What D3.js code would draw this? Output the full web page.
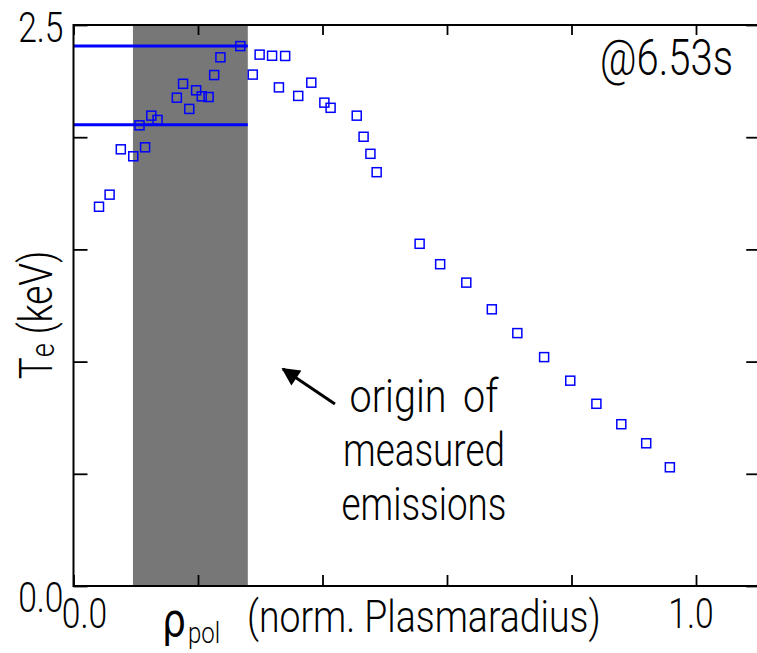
<!DOCTYPE html>
<html>
<head>
<meta charset="utf-8">
<script src="https://cdn.jsdelivr.net/npm/d3@7"></script>
<style>
  body { margin: 0; background: #fff; }
  text { font-family: Roboto, "Liberation Sans", sans-serif; font-weight: 300; fill: #000; }
</style>
</head>
<body>
<svg id="chart" width="757" height="653"></svg>
<script>
// measured profile
var rho = [0.041, 0.058, 0.076, 0.096, 0.115, 0.106, 0.125, 0.135, 0.166, 0.176,
  0.186, 0.197, 0.206, 0.217, 0.226, 0.236, 0.268, 0.288, 0.299, 0.319,
  0.340, 0.330, 0.361, 0.382, 0.403, 0.413, 0.455, 0.466, 0.477, 0.487,
  0.556, 0.589, 0.631, 0.672, 0.713, 0.756, 0.798, 0.840, 0.880, 0.920, 0.958];
var te = [1.690, 1.744, 1.946, 1.915, 1.955, 2.053, 2.096, 2.077, 2.176, 2.238,
  2.126, 2.209, 2.182, 2.179, 2.277, 2.356, 2.406, 2.279, 2.368, 2.363,
  2.362, 2.222, 2.184, 2.243, 2.154, 2.131, 2.096, 2.002, 1.926, 1.844,
  1.525, 1.434, 1.352, 1.233, 1.127, 1.020, 0.915, 0.812, 0.721, 0.636, 0.529];

var emissionBand = [0.0955, 0.28];   // shaded rho range
var refLevels = [2.406, 2.056];      // horizontal blue lines
var xTicks = [0, 0.2, 0.4, 0.6, 0.8, 1.0];
var yTicks = [0, 0.5, 1.0, 1.5, 2.0, 2.5];
var xLabels = [0.0, 1.0];
var yLabels = [0.0, 2.5];
var timeLabel = "@6.53s";
var noteLines = ["origin of", "measured", "emissions"];

var padL = 73.5, padT = 25, padB = 586;
var squeeze = 0.8;   // condensed look for all text

var x = d3.scaleLinear().domain([0, 1.1]).range([padL, padL + 1.1 * 622.5]);
var y = d3.scaleLinear().domain([0, 2.5]).range([padB, padT]);

var svg = d3.select("#chart");

function narrow(xp, yp, extra, sq) {
  return "translate(" + xp + "," + yp + ")" + (extra || "") + " scale(" + (sq || squeeze) + ",1)";
}

// shaded region
svg.append("rect")
  .attr("x", x(emissionBand[0]))
  .attr("y", y(2.5))
  .attr("width", x(emissionBand[1]) - x(emissionBand[0]))
  .attr("height", y(0) - y(2.5))
  .attr("fill", "#777777");

// reference lines
svg.selectAll("line.ref").data(refLevels).enter().append("line")
  .attr("class", "ref")
  .attr("x1", x(0)).attr("x2", x(emissionBand[1]))
  .attr("y1", function(d) { return y(d); })
  .attr("y2", function(d) { return y(d); })
  .attr("stroke", "#0000ff")
  .attr("stroke-width", 3);

// data points
var pts = rho.map(function(r, i) { return { r: r, t: te[i] }; });
var s = 9;
svg.selectAll("rect.pt").data(pts).enter().append("rect")
  .attr("class", "pt")
  .attr("x", function(d) { return x(d.r) - s / 2; })
  .attr("y", function(d) { return y(d.t) - s / 2; })
  .attr("width", s).attr("height", s)
  .attr("fill", "none")
  .attr("stroke", "#0000ff")
  .attr("stroke-width", 1.5);

// axes with inward ticks on all four sides
function axisStyle(g) {
  g.select(".domain").remove();
  g.selectAll(".tick line").attr("stroke", "#000").attr("stroke-width", 1.8);
  g.selectAll(".tick text").remove();
}
svg.append("g").attr("transform", "translate(0," + padB + ")")
  .call(d3.axisBottom(x).tickValues(xTicks).tickSize(-11)).call(axisStyle);
svg.append("g").attr("transform", "translate(0," + padT + ")")
  .call(d3.axisTop(x).tickValues(xTicks).tickSize(-10)).call(axisStyle);
svg.append("g").attr("transform", "translate(" + padL + ",0)")
  .call(d3.axisLeft(y).tickValues(yTicks).tickSize(-14)).call(axisStyle);
svg.append("g").attr("transform", "translate(" + x(1.1) + ",0)")
  .call(d3.axisRight(y).tickValues(yTicks).tickSize(-12)).call(axisStyle);

// frame
svg.append("path")
  .attr("d", "M" + x(1.1) + "," + padT + "H" + padL + "V" + padB + "H" + x(1.1))
  .attr("fill", "none").attr("stroke", "#000").attr("stroke-width", 2);

// tick labels
svg.selectAll("text.xl").data(xLabels).enter().append("text")
  .attr("class", "xl")
  .attr("transform", function(d) { return narrow(x(d) + (d === 0 ? 11 : -5), padB + 42); })
  .attr("text-anchor", "middle")
  .attr("font-size", 42)
  .text(function(d) { return d.toFixed(1); });

svg.selectAll("text.yl").data(yLabels).enter().append("text")
  .attr("class", "yl")
  .attr("transform", function(d) { return narrow(padL - 10, y(d) + (d === 0 ? 26 : 17)); })
  .attr("text-anchor", "end")
  .attr("font-size", 42)
  .text(function(d) { return d.toFixed(1); });

// axis titles
svg.append("text").attr("transform", narrow(162, 636, "", 0.82))
  .attr("font-size", 46)
  .attr("style", "font-family:'DejaVu Sans';font-weight:normal")
  .text("ρ");
svg.append("text").attr("transform", narrow(188, 643))
  .attr("font-size", 30).text("pol");
svg.append("text").attr("transform", narrow(247, 632, "", 0.85))
  .attr("font-size", 44).text("(norm. Plasmaradius)");

var yt = svg.append("text")
  .attr("transform", narrow(52, 315, " rotate(-90)"))
  .attr("text-anchor", "middle")
  .attr("font-size", 46);
yt.append("tspan").text("T");
yt.append("tspan").attr("font-size", 34).attr("dy", 2).text("e");
yt.append("tspan").attr("dy", -2).text(" (keV)");

// time stamp
svg.append("text")
  .attr("transform", narrow(733, 75))
  .attr("text-anchor", "end")
  .attr("font-size", 50)
  .text(timeLabel);

// annotation
svg.append("defs").append("marker")
  .attr("id", "head")
  .attr("viewBox", "0 0 10 10")
  .attr("refX", 9).attr("refY", 5)
  .attr("markerWidth", 7).attr("markerHeight", 6)
  .attr("markerUnits", "strokeWidth")
  .attr("orient", "auto")
  .append("path").attr("d", "M0,0L10,5L0,10Z").attr("fill", "#000");

svg.append("line")
  .attr("x1", x(0.42)).attr("y1", y(0.811))
  .attr("x2", x(0.3365)).attr("y2", y(0.967))
  .attr("stroke", "#000").attr("stroke-width", 3)
  .attr("marker-end", "url(#head)");

svg.selectAll("text.note").data(noteLines).enter().append("text")
  .attr("class", "note")
  .attr("transform", function(d, i) { return narrow(x(0.563), 412 + i * 54, "", i === 0 ? 0.86 : squeeze); })
  .attr("text-anchor", "middle")
  .attr("font-size", 46)
  .attr("word-spacing", function(d, i) { return i === 0 ? 8 : 0; })
  .text(function(d) { return d; });
</script>
</body>
</html>
